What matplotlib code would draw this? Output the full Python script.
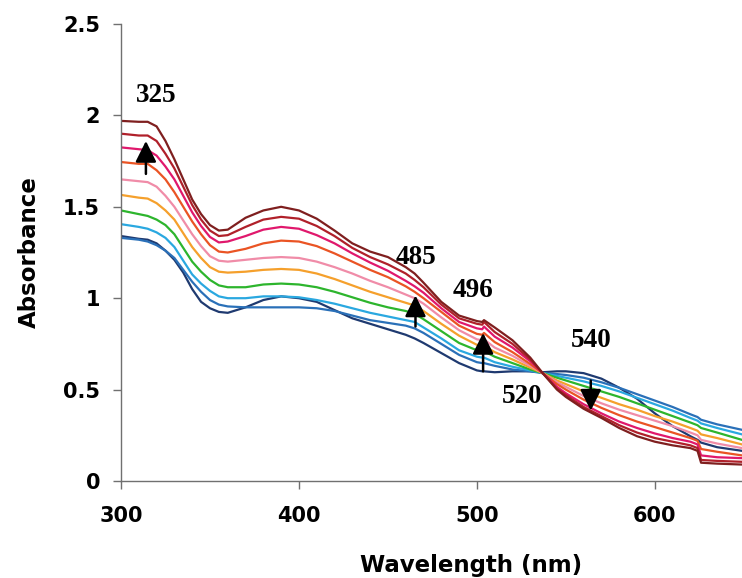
import matplotlib
matplotlib.use("Agg")
import matplotlib.pyplot as plt

# Wavelength grid (nm)
wavelength = [300, 310, 315, 320, 325, 330, 335, 340, 345, 350, 355, 360, 370, 380, 390, 400, 410,
              420, 430, 440, 450, 460, 465, 470, 480, 490, 500, 503, 504, 510, 520, 530,
              537, 545, 550, 560, 570, 580, 590, 600, 610, 620, 624, 626, 635, 649]

# Spectra (first -> last)
s_navy = [1.34, 1.325, 1.32, 1.30, 1.26, 1.21, 1.14, 1.05, 0.98, 0.945, 0.925, 0.92, 0.95, 0.99, 1.01, 1.00, 0.98,
          0.935, 0.89, 0.86, 0.83, 0.80, 0.78, 0.755, 0.70, 0.645, 0.605, 0.60, 0.60, 0.595, 0.60, 0.60,
          0.595, 0.60, 0.60, 0.59, 0.56, 0.51, 0.45, 0.37, 0.30, 0.245, 0.225, 0.21, 0.185, 0.165]
s_steel = [1.33, 1.32, 1.31, 1.29, 1.26, 1.22, 1.155, 1.09, 1.035, 0.99, 0.965, 0.955, 0.95, 0.95, 0.95, 0.95, 0.945,
           0.93, 0.905, 0.88, 0.865, 0.85, 0.835, 0.81, 0.75, 0.69, 0.65, 0.645, 0.645, 0.63, 0.61, 0.60,
           0.59, 0.585, 0.58, 0.565, 0.54, 0.51, 0.475, 0.44, 0.405, 0.365, 0.35, 0.335, 0.31, 0.28]
s_lightblue = [1.405, 1.39, 1.38, 1.36, 1.33, 1.28, 1.205, 1.13, 1.08, 1.04, 1.01, 1.00, 1.00, 1.01, 1.01, 1.005, 0.99,
               0.97, 0.945, 0.92, 0.90, 0.88, 0.87, 0.84, 0.78, 0.715, 0.68, 0.675, 0.675, 0.65, 0.625, 0.605,
               0.59, 0.575, 0.565, 0.545, 0.52, 0.49, 0.455, 0.42, 0.385, 0.345, 0.33, 0.315, 0.29, 0.255]
s_green = [1.48, 1.46, 1.45, 1.43, 1.40, 1.35, 1.275, 1.20, 1.145, 1.10, 1.07, 1.06, 1.06, 1.075, 1.08, 1.075, 1.06,
           1.035, 1.005, 0.975, 0.95, 0.93, 0.915, 0.885, 0.82, 0.755, 0.715, 0.71, 0.71, 0.68, 0.645, 0.61,
           0.59, 0.565, 0.55, 0.52, 0.49, 0.46, 0.425, 0.39, 0.355, 0.32, 0.305, 0.29, 0.265, 0.225]
s_orange = [1.565, 1.55, 1.545, 1.52, 1.48, 1.43, 1.355, 1.28, 1.22, 1.17, 1.145, 1.14, 1.145, 1.155, 1.16, 1.155, 1.135,
            1.105, 1.07, 1.035, 1.005, 0.975, 0.96, 0.93, 0.86, 0.795, 0.745, 0.74, 0.74, 0.705, 0.665, 0.62,
            0.59, 0.55, 0.53, 0.49, 0.455, 0.42, 0.39, 0.355, 0.325, 0.29, 0.275, 0.255, 0.235, 0.20]
s_pink = [1.65, 1.64, 1.635, 1.61, 1.56, 1.50, 1.425, 1.35, 1.285, 1.23, 1.205, 1.20, 1.21, 1.22, 1.225, 1.22, 1.20,
          1.17, 1.135, 1.095, 1.06, 1.02, 1.00, 0.97, 0.895, 0.825, 0.775, 0.77, 0.775, 0.73, 0.685, 0.63,
          0.59, 0.54, 0.515, 0.465, 0.425, 0.39, 0.36, 0.33, 0.30, 0.265, 0.25, 0.225, 0.205, 0.18]
s_orangered = [1.745, 1.735, 1.735, 1.70, 1.65, 1.58, 1.50, 1.42, 1.35, 1.29, 1.255, 1.25, 1.27, 1.30, 1.315, 1.31, 1.285,
               1.245, 1.20, 1.155, 1.115, 1.065, 1.035, 1.00, 0.925, 0.85, 0.805, 0.80, 0.81, 0.76, 0.705, 0.64,
               0.59, 0.53, 0.50, 0.445, 0.40, 0.36, 0.325, 0.295, 0.265, 0.235, 0.22, 0.175, 0.16, 0.14]
s_deeppink = [1.825, 1.815, 1.81, 1.78, 1.72, 1.65, 1.56, 1.47, 1.395, 1.335, 1.305, 1.31, 1.34, 1.375, 1.39, 1.38, 1.345,
              1.30, 1.245, 1.195, 1.15, 1.095, 1.065, 1.03, 0.945, 0.87, 0.835, 0.83, 0.845, 0.79, 0.73, 0.655,
              0.59, 0.515, 0.48, 0.42, 0.37, 0.325, 0.29, 0.26, 0.235, 0.215, 0.20, 0.14, 0.13, 0.125]
s_firebrick = [1.90, 1.89, 1.89, 1.86, 1.79, 1.71, 1.61, 1.51, 1.43, 1.37, 1.34, 1.345, 1.39, 1.43, 1.445, 1.435, 1.395,
               1.34, 1.275, 1.225, 1.185, 1.135, 1.10, 1.06, 0.965, 0.89, 0.86, 0.855, 0.87, 0.815, 0.75, 0.665,
               0.59, 0.505, 0.47, 0.405, 0.355, 0.305, 0.265, 0.235, 0.215, 0.195, 0.18, 0.115, 0.11, 0.105]
s_maroon = [1.97, 1.965, 1.965, 1.94, 1.86, 1.76, 1.65, 1.54, 1.46, 1.40, 1.37, 1.375, 1.44, 1.48, 1.50, 1.48, 1.435,
            1.37, 1.30, 1.255, 1.225, 1.17, 1.135, 1.085, 0.98, 0.905, 0.875, 0.87, 0.88, 0.84, 0.77, 0.675,
            0.59, 0.50, 0.46, 0.395, 0.345, 0.29, 0.245, 0.215, 0.195, 0.18, 0.165, 0.10, 0.095, 0.09]

series = [s_navy, s_steel, s_lightblue, s_green, s_orange, s_pink, s_orangered, s_deeppink, s_firebrick, s_maroon]
colors = ["#1F3A70", "#2A70B8", "#2AA8E0", "#2DB52D", "#F5A02C", "#F08CA8", "#EA5424", "#E0186C", "#B0202A", "#7F1F1F"]

# Annotations: (label, x, y)
labels = [("325", 320, 2.11), ("485", 466, 1.225), ("496", 498, 1.04), ("520", 525.5, 0.46), ("540", 564.5, 0.77)]
# Arrows: (x, y_tail, y_head)
arrows = [(314, 1.68, 1.86), (465.5, 0.845, 1.015), (503.5, 0.60, 0.81), (564, 0.55, 0.385)]

x_ticks = [300, 400, 500, 600]
y_ticks = [0, 0.5, 1, 1.5, 2, 2.5]
y_tick_labels = ["0", "0.5", "1", "1.5", "2", "2.5"]

fig = plt.figure(figsize=(7.42, 5.78), dpi=100)
ax = fig.add_axes([121/742, 1 - 481/578, 1 - 121/742, (481 - 24)/578])

for s, c in zip(series, colors):
    ax.plot(wavelength, s, color=c, lw=1.6, solid_joinstyle="round")

ax.set_xlim(300, 649)
ax.set_ylim(0, 2.5)
ax.set_xticks(x_ticks)
ax.set_yticks(y_ticks)
ax.set_yticklabels(y_tick_labels)

for sp in ["top", "right"]:
    ax.spines[sp].set_visible(False)
for sp in ["left", "bottom"]:
    ax.spines[sp].set_color("#707070")
    ax.spines[sp].set_linewidth(1.0)
ax.tick_params(axis="both", direction="out", length=6, width=1.0, color="#707070")
ax.tick_params(axis="x", pad=12)
ax.tick_params(axis="y", pad=9)
for lab in ax.get_xticklabels() + ax.get_yticklabels():
    lab.set_fontfamily("DejaVu Sans")
    lab.set_fontweight("bold")
    lab.set_fontsize(15)

ax.set_xlabel("Wavelength (nm)", fontfamily="DejaVu Sans", fontweight="bold", fontsize=16.5, labelpad=20,
              x=(471 - 121) / 621)
ax.set_ylabel("Absorbance", fontfamily="DejaVu Sans", fontweight="bold", fontsize=16.5, labelpad=16)

for t, x, y in labels:
    ax.text(x, y, t, ha="center", va="center", fontfamily="Liberation Serif", fontweight="bold", fontsize=19.5)

for x, y0, y1 in arrows:
    ax.annotate("", xy=(x, y1), xytext=(x, y0),
                arrowprops=dict(arrowstyle="-|>,head_length=0.8,head_width=0.4", color="black", lw=1.8,
                                shrinkA=0, shrinkB=0, mutation_scale=16))

fig.savefig("out.png", dpi=100)
